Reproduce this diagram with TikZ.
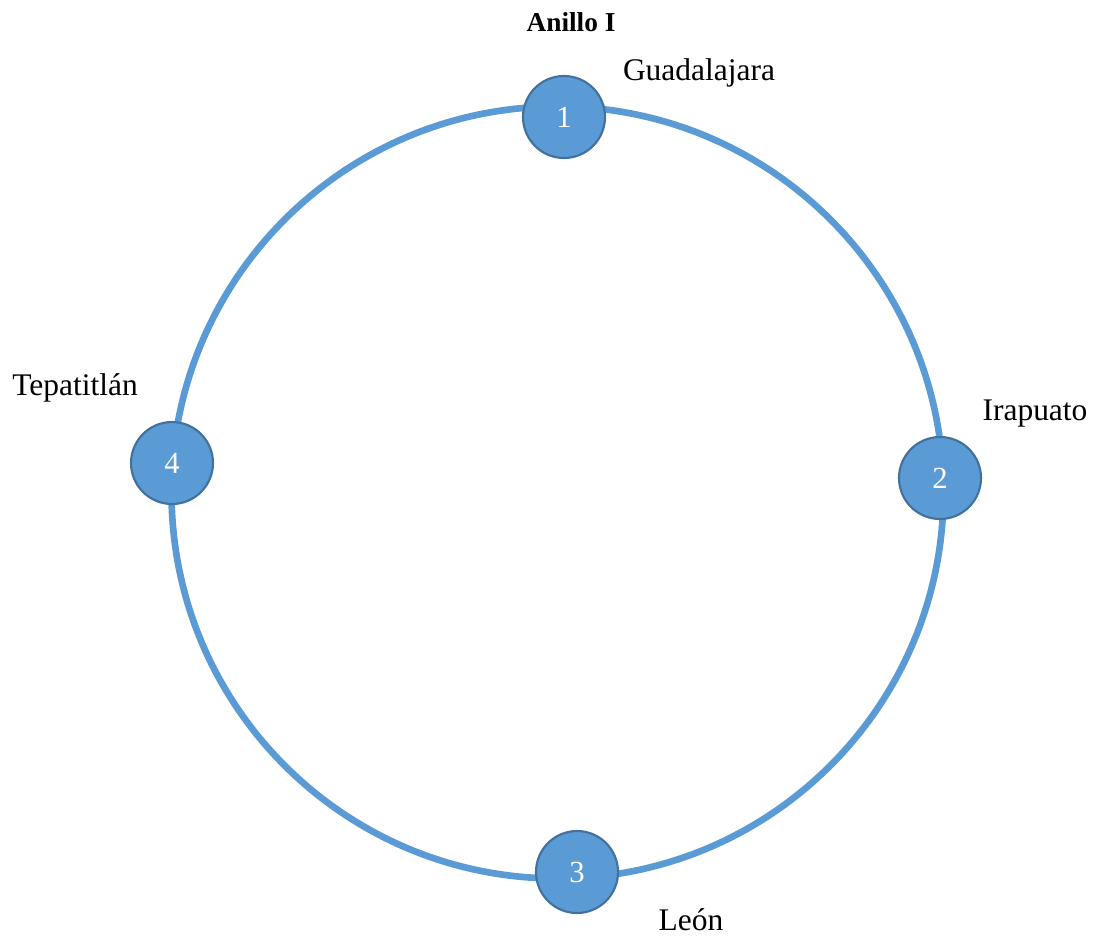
\documentclass[tikz,border=0pt]{standalone}
\usepackage{fontspec}
\setmainfont{Liberation Serif}
\definecolor{ringblue}{HTML}{5B9BD5}
\definecolor{edgeblue}{HTML}{41719C}
\begin{document}
\begin{tikzpicture}[x=0.75pt,y=-0.75pt,
  city/.style={circle,fill=ringblue,draw=edgeblue,line width=1.6pt,minimum size=61.5pt,inner sep=0pt,text=white,font=\fontsize{23}{27}\selectfont},
  lbl/.style={font=\fontsize{23.6}{28}\selectfont,inner sep=0pt,anchor=base},
  ring/.style={draw=ringblue,line width=5pt}]
\useasboundingbox (0,0) rectangle (1094,939);
\coordinate (c) at (557.5,492.5);
\draw[ring] (c) circle[radius=289.5pt];
\node[city] (n1) at (564,117) {1};
\node[city] (n2) at (940,478) {2};
\node[city] (n3) at (577,872) {3};
\node[city] (n4) at (172,463) {4};
\node[lbl,font=\bfseries\fontsize{20.5}{25}\selectfont] (t) at (571,31) {Anillo I};
\node[lbl] (l1) at (699,80) {Guadalajara};
\node[lbl] (l2) at (1035,420) {Irapuato};
\node[lbl] (l3) at (691,930) {León};
\node[lbl] (l4) at (75,395) {Tepatitlán};
\end{tikzpicture}
\end{document}
